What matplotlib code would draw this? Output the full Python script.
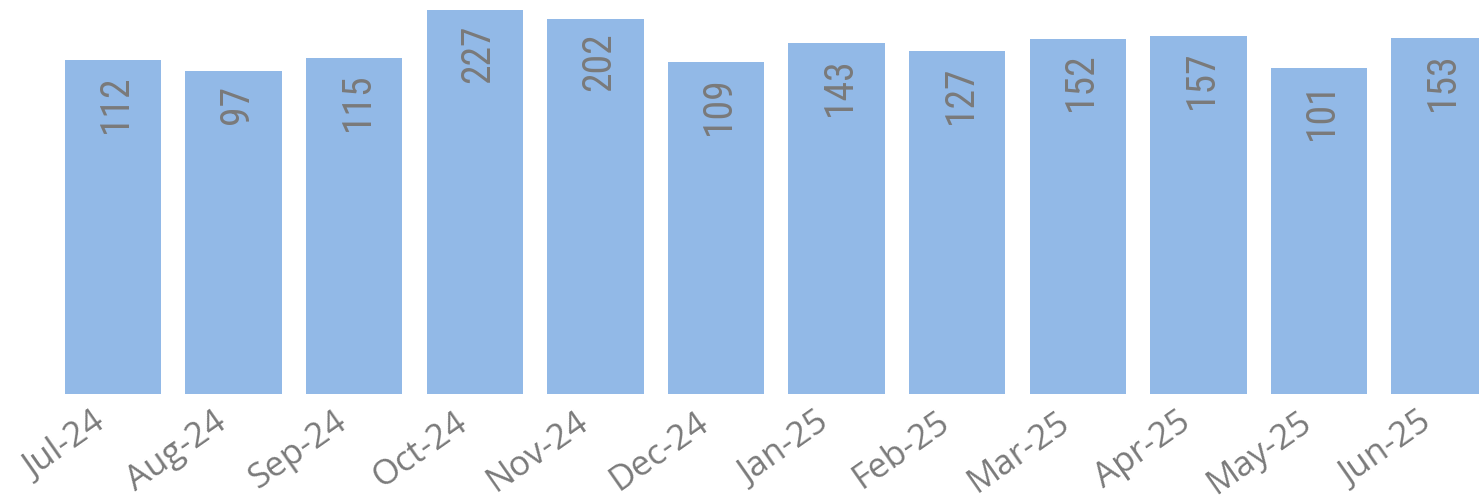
import matplotlib
matplotlib.use("Agg")
import matplotlib.pyplot as plt
import matplotlib.transforms as mtransforms
from matplotlib import font_manager
import numpy as np

months = ["Jul-24", "Aug-24", "Sep-24", "Oct-24", "Nov-24", "Dec-24",
          "Jan-25", "Feb-25", "Mar-25", "Apr-25", "May-25", "Jun-25"]
counts = [112, 97, 115, 227, 202, 109, 143, 127, 152, 157, 101, 153]

BAR_COLOR = "#92b9e7"
TEXT_COLOR = "#7a7a7a"

# narrow font for the values if one is installed
available = {f.name for f in font_manager.fontManager.ttflist}
narrow = [f for f in ["Liberation Sans Narrow", "Roboto Condensed",
                      "DejaVu Sans Condensed", "Open Sans Condensed"]
          if f in available]
value_font = narrow + ["Roboto", "DejaVu Sans"]
narrow_ok = bool(narrow)

fig = plt.figure(figsize=(14.79, 4.99), dpi=100)
ax = fig.add_axes([0, 0.2104, 1, 0.7896])

x = np.arange(len(months))
ax.set_yscale("log")
bars = ax.bar(x, counts, width=0.8, color=BAR_COLOR)
ax.set_ylim(1, 263)
ax.set_xlim(-0.937, 11.327)

# value labels, vertical, just inside the top of each bar
for rect, v in zip(bars, counts):
    ax.annotate(str(v), (rect.get_x() + rect.get_width() / 2, v),
                xytext=(2, -10), textcoords="offset points",
                rotation=90, ha="center", va="top",
                fontsize=28.5 if narrow_ok else 23, color=TEXT_COLOR,
                family=value_font)

ax.set_xticks(x)
ax.set_xticklabels(months, rotation=35, ha="right", va="center",
                   rotation_mode="anchor", fontsize=25, color=TEXT_COLOR,
                   family=["Open Sans", "DejaVu Sans"])
ax.tick_params(axis="x", length=0, pad=18)
shift = mtransforms.ScaledTranslation(-11 / 100, 0, fig.dpi_scale_trans)
for lab in ax.get_xticklabels():
    lab.set_transform(lab.get_transform() + shift)
ax.set_yticks([])
ax.minorticks_off()
ax.tick_params(axis="y", which="both", left=False, labelleft=False)
for s in ax.spines.values():
    s.set_visible(False)

fig.savefig("out.png", dpi=100)
